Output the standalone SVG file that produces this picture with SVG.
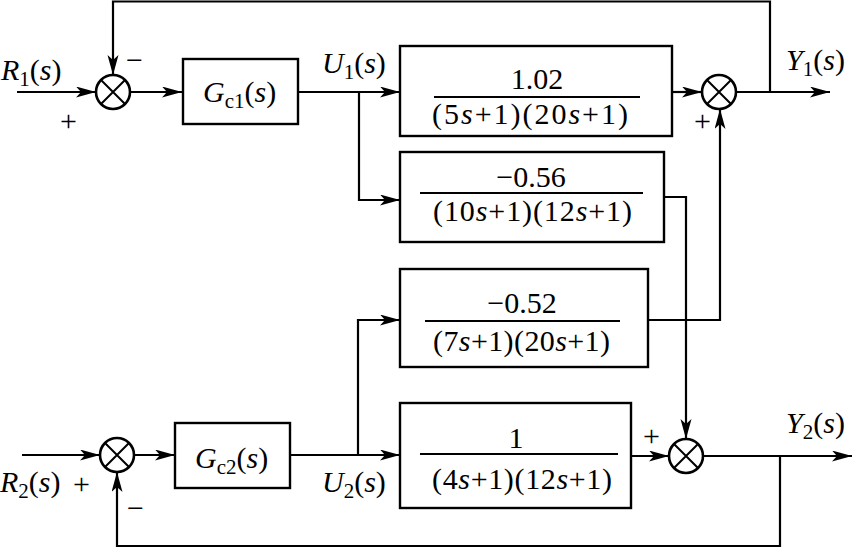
<svg xmlns="http://www.w3.org/2000/svg" width="862" height="548" viewBox="0 0 862 548">
<style>
.b{fill:#fff;stroke:#000;stroke-width:2.4}
.c{fill:none;stroke:#000;stroke-width:2.2}
.s{fill:#fff;stroke:#000;stroke-width:2.6}
.x{stroke:#000;stroke-width:2}
.i{font-style:italic}
</style>
<defs>
<marker id="a" markerUnits="userSpaceOnUse" markerWidth="22" markerHeight="12" refX="20" refY="5.5" orient="auto">
<path d="M0,0 L20,5.5 L0,11 L5,5.5 z" fill="#000"/>
</marker>
</defs>
<rect width="862" height="548" fill="#fff"/>
<g id="connectors" class="c">
<path d="M17,92 H96" marker-end="url(#a)"/>
<path d="M770,92 V1.5 H113 V75" marker-end="url(#a)"/>
<path d="M130,92 H182" marker-end="url(#a)"/>
<path d="M298,92 H400" marker-end="url(#a)"/>
<path d="M359,92 V200 H400" marker-end="url(#a)"/>
<path d="M672,92 H702" marker-end="url(#a)"/>
<path d="M736,92 H830" marker-end="url(#a)"/>
<path d="M648,320 H720 V109" marker-end="url(#a)"/>
<path d="M664,197 H686 V439" marker-end="url(#a)"/>
<path d="M631,456 H669" marker-end="url(#a)"/>
<path d="M703,456 H852" marker-end="url(#a)"/>
<path d="M780,456 V546 H117 V472" marker-end="url(#a)"/>
<path d="M22,455 H100" marker-end="url(#a)"/>
<path d="M134,455 H175" marker-end="url(#a)"/>
<path d="M290,455 H400" marker-end="url(#a)"/>
<path d="M358,455 V320 H400" marker-end="url(#a)"/>
</g>
<g id="sum1">
<circle class="s" cx="113" cy="92" r="17"/>
<path class="x" d="M101,80 L125,104 M125,80 L101,104"/>
<text font-family="Liberation Serif" font-size="30" x="126" y="70">−</text>
<text font-family="Liberation Serif" font-size="30" x="60" y="131">+</text>
</g>
<g id="sumY1">
<circle class="s" cx="719" cy="92" r="17"/>
<path class="x" d="M707,80 L731,104 M731,80 L707,104"/>
<text font-family="Liberation Serif" font-size="30" x="694" y="131">+</text>
</g>
<g id="sumY2">
<circle class="s" cx="686" cy="456" r="17"/>
<path class="x" d="M674,444 L698,468 M698,444 L674,468"/>
<text font-family="Liberation Serif" font-size="30" x="643" y="446">+</text>
</g>
<g id="sum2">
<circle class="s" cx="117" cy="455" r="17"/>
<path class="x" d="M105,443 L129,467 M129,443 L105,467"/>
<text font-family="Liberation Serif" font-size="30" x="127" y="518">−</text>
<text font-family="Liberation Serif" font-size="30" x="73" y="494">+</text>
</g>
<g id="Gc1">
<rect class="b" x="183" y="59" width="115" height="65"/>
<text font-family="Liberation Serif" font-size="30" x="203" y="102"><tspan class="i">G</tspan><tspan font-size="21" dy="6">c1</tspan><tspan dy="-6">(</tspan><tspan class="i">s</tspan>)</text>
</g>
<g id="Gc2">
<rect class="b" x="175" y="423" width="115" height="65"/>
<text font-family="Liberation Serif" font-size="30" x="195" y="468"><tspan class="i">G</tspan><tspan font-size="21" dy="6">c2</tspan><tspan dy="-6">(</tspan><tspan class="i">s</tspan>)</text>
</g>
<g id="G11">
<rect class="b" x="400" y="46" width="272" height="90"/>
<text font-family="Liberation Serif" font-size="30" x="537" y="89" text-anchor="middle">1.02</text>
<line class="x" x1="434" y1="97" x2="640" y2="97"/>
<text font-family="Liberation Serif" font-size="30" x="432" y="124" textLength="196" lengthAdjust="spacing">(5<tspan class="i">s</tspan>+1)(20<tspan class="i">s</tspan>+1)</text>
</g>
<g id="G21">
<rect class="b" x="400" y="152" width="264" height="90"/>
<text font-family="Liberation Serif" font-size="30" x="531" y="187" text-anchor="middle">−0.56</text>
<line class="x" x1="420" y1="193" x2="643" y2="193"/>
<text font-family="Liberation Serif" font-size="30" x="433" y="221" textLength="199" lengthAdjust="spacing">(10<tspan class="i">s</tspan>+1)(12<tspan class="i">s</tspan>+1)</text>
</g>
<g id="G12">
<rect class="b" x="400" y="269" width="248" height="98"/>
<text font-family="Liberation Serif" font-size="30" x="522" y="313" text-anchor="middle">−0.52</text>
<line class="x" x1="425" y1="321" x2="620" y2="321"/>
<text font-family="Liberation Serif" font-size="30" x="433" y="351" textLength="177" lengthAdjust="spacing">(7<tspan class="i">s</tspan>+1)(20<tspan class="i">s</tspan>+1)</text>
</g>
<g id="G22">
<rect class="b" x="400" y="403" width="231" height="105"/>
<text font-family="Liberation Serif" font-size="30" x="516" y="448" text-anchor="middle">1</text>
<line class="x" x1="420" y1="454" x2="618" y2="454"/>
<text font-family="Liberation Serif" font-size="30" x="432" y="489" textLength="180" lengthAdjust="spacing">(4<tspan class="i">s</tspan>+1)(12<tspan class="i">s</tspan>+1)</text>
</g>
<g id="labels">
<text font-family="Liberation Serif" font-size="30" x="1" y="80"><tspan class="i">R</tspan><tspan font-size="21" dy="6">1</tspan><tspan dy="-6">(</tspan><tspan class="i">s</tspan>)</text>
<text font-family="Liberation Serif" font-size="30" x="322" y="73"><tspan class="i">U</tspan><tspan font-size="21" dy="6">1</tspan><tspan dy="-6">(</tspan><tspan class="i">s</tspan>)</text>
<text font-family="Liberation Serif" font-size="30" x="786" y="70"><tspan class="i">Y</tspan><tspan font-size="21" dy="6">1</tspan><tspan dy="-6">(</tspan><tspan class="i">s</tspan>)</text>
<text font-family="Liberation Serif" font-size="30" x="786" y="433"><tspan class="i">Y</tspan><tspan font-size="21" dy="6">2</tspan><tspan dy="-6">(</tspan><tspan class="i">s</tspan>)</text>
<text font-family="Liberation Serif" font-size="30" x="0" y="492"><tspan class="i">R</tspan><tspan font-size="21" dy="6">2</tspan><tspan dy="-6">(</tspan><tspan class="i">s</tspan>)</text>
<text font-family="Liberation Serif" font-size="30" x="322" y="492"><tspan class="i">U</tspan><tspan font-size="21" dy="6">2</tspan><tspan dy="-6">(</tspan><tspan class="i">s</tspan>)</text>
</g>
</svg>
